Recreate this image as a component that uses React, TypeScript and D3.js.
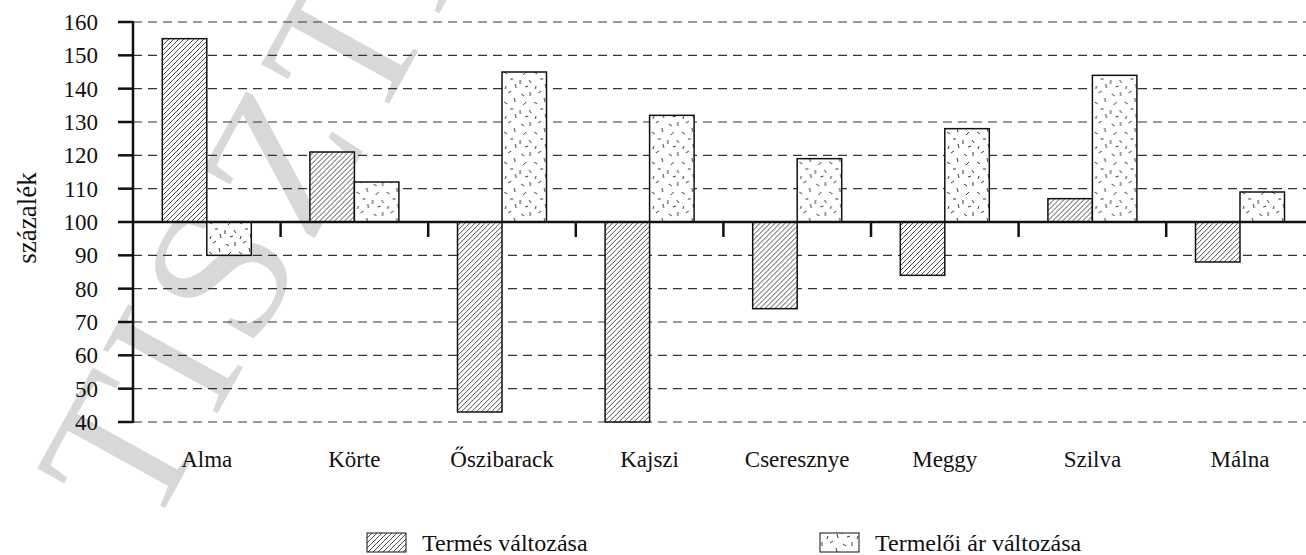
import React from "react";
import * as d3 from "d3";

const categories = ["Alma", "Körte", "Őszibarack", "Kajszi", "Cseresznye", "Meggy", "Szilva", "Málna"];
const termes = [155, 121, 43, 40, 74, 84, 107, 88];
const ar = [90, 112, 145, 132, 119, 128, 144, 109];
const seriesNames = ["Termés változása", "Termelői ár változása"];
const yTicks = [40, 50, 60, 70, 80, 90, 100, 110, 120, 130, 140, 150, 160];
const yLabel = "százalék";
const watermark = "TISZTÁZAT";

const W = 1306;
const H = 555;
const FONT = "Liberation Serif";

const dashSegs: [number, number, number, number][] = [
  [3, 4, 6, 6], [12, 2, 12, 6], [20, 3, 23, 1], [26, 8, 27, 12],
  [8, 12, 5, 15], [16, 12, 19, 14], [2, 20, 2, 24], [11, 20, 13, 23],
  [22, 19, 25, 19], [7, 27, 10, 26], [18, 26, 17, 29], [27, 24, 28, 28],
];

const txt = (size: number) => ({ fontFamily: FONT, fontSize: size });

export default function App() {
  const x0Left = 133;
  const bandW = 147.6;
  const x0 = d3.scaleBand<string>().domain(categories).range([x0Left, x0Left + bandW * categories.length]).padding(0);
  const x1 = d3.scaleBand<string>().domain(seriesNames).range([bandW / 2 - 44.5, bandW / 2 + 44.5]).padding(0);
  const y = d3.scaleLinear().domain([40, 160]).range([422, 22]);
  const base = y(100);
  const data = [termes, ar];
  const fills = ["url(#hatch)", "url(#dashes)"];

  return (
    <svg width={W} height={H} style={{ position: "absolute", left: 0, top: 0, background: "#fff" }}>
      <defs>
        <pattern id="hatch" patternUnits="userSpaceOnUse" width={5} height={5}>
          <rect width={5} height={5} fill="#fff" />
          <path d="M-1,6 L6,-1 M-1,1 L1,-1 M4,6 L6,4" stroke="#222" strokeWidth={0.8} />
        </pattern>
        <pattern id="dashes" patternUnits="userSpaceOnUse" width={30} height={30}>
          <rect width={30} height={30} fill="#fff" />
          {dashSegs.map((s, i) => (
            <line key={i} x1={s[0]} y1={s[1]} x2={s[2]} y2={s[3]} stroke="#222" strokeWidth={0.9} />
          ))}
        </pattern>
      </defs>

      {/* watermark */}
      <text transform="translate(150,535) rotate(-61)" style={{ ...txt(200), letterSpacing: 10 }} fill="#d8d8d8">
        {watermark}
      </text>

      {/* grid lines */}
      {yTicks.filter((t) => t !== 100).map((t) => (
        <line key={t} x1={x0Left} x2={W} y1={y(t)} y2={y(t)} stroke="#333" strokeWidth={1.2} strokeDasharray="9,6" />
      ))}

      {/* bars */}
      {categories.map((c, i) => (
        <g key={c} transform={`translate(${x0(c)},0)`}>
          {seriesNames.map((s, j) => {
            const v = data[j][i];
            const top = Math.min(y(v), base);
            const h = Math.abs(y(v) - base);
            return (
              <rect key={s} x={x1(s)} y={top} width={x1.bandwidth()} height={h} fill={fills[j]} stroke="#111" strokeWidth={1.5} />
            );
          })}
        </g>
      ))}

      {/* y axis */}
      <line x1={x0Left} x2={x0Left} y1={y(160) - 1} y2={y(40) + 1} stroke="#111" strokeWidth={2.5} />
      {yTicks.map((t) => (
        <g key={t}>
          <line x1={118} x2={x0Left} y1={y(t)} y2={y(t)} stroke="#111" strokeWidth={2.5} />
          <text x={98} y={y(t)} dy="0.35em" textAnchor="end" style={txt(23)} fill="#111">
            {t}
          </text>
        </g>
      ))}

      {/* baseline at 100 */}
      <line x1={x0Left} x2={W} y1={base} y2={base} stroke="#111" strokeWidth={2.5} />
      {categories.map((c) => (
        <line key={c} x1={(x0(c) as number) + bandW} x2={(x0(c) as number) + bandW} y1={base} y2={base + 15} stroke="#111" strokeWidth={2.5} />
      ))}

      {/* category labels */}
      {categories.map((c) => (
        <text key={c} x={(x0(c) as number) + bandW / 2} y={467} textAnchor="middle" style={txt(23)} fill="#111">
          {c}
        </text>
      ))}

      {/* y label */}
      <text transform={`translate(36,${base - 4}) rotate(-90)`} textAnchor="middle" style={txt(27)} fill="#111">
        {yLabel}
      </text>

      {/* legend */}
      <rect x={367} y={533} width={39} height={19} fill="url(#hatch)" stroke="#111" strokeWidth={1} />
      <text x={422} y={551} style={txt(24)} fill="#111">{seriesNames[0]}</text>
      <rect x={820} y={533} width={39} height={19} fill="url(#dashes)" stroke="#111" strokeWidth={1} />
      <text x={875} y={551} style={txt(24)} fill="#111">{seriesNames[1]}</text>
    </svg>
  );
}
